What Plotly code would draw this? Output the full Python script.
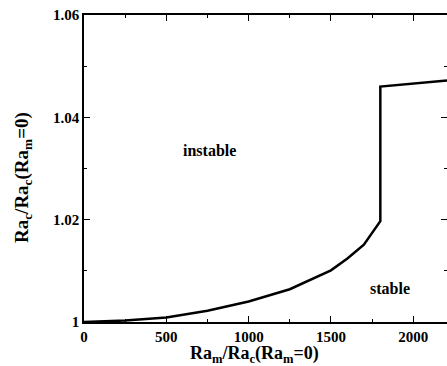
import plotly.graph_objects as go

ram_ratio = [0, 250, 500, 750, 1000, 1250, 1500, 1600, 1700, 1750, 1800, 1800, 2205]
rac_ratio = [1.0, 1.0003, 1.0009, 1.0022, 1.0040, 1.0064, 1.0101, 1.0124, 1.0151, 1.0173, 1.0197, 1.0460, 1.0472]

x_ticks = [0, 500, 1000, 1500, 2000]
y_ticks = [1.0, 1.02, 1.04, 1.06]
y_tick_text = ["1", "1.02", "1.04", "1.06"]

font = "Liberation Serif"

fig = go.Figure()
fig.add_trace(go.Scatter(x=ram_ratio, y=rac_ratio, mode="lines",
                         line=dict(color="black", width=2.5), showlegend=False))

fig.update_layout(
    width=447, height=366,
    margin=dict(l=84, r=0, t=15, b=44, autoexpand=False),
    paper_bgcolor="white", plot_bgcolor="white",
    font=dict(family=font, color="black"),
    xaxis=dict(range=[0, 2205], tickvals=x_ticks, ticks="inside", ticklen=6,
               tickwidth=1, tickcolor="black", showline=True, linecolor="black",
               linewidth=1.5, mirror="ticks", showgrid=False, zeroline=False,
               tickfont=dict(family=font, size=15, color="black", weight="bold"),
               minor=dict(dtick=250, ticks="inside", ticklen=3, tickcolor="black")),
    yaxis=dict(range=[1.0, 1.06], tickvals=y_ticks, ticktext=y_tick_text,
               ticks="inside", ticklen=6, tickwidth=1, tickcolor="black",
               showline=True, linecolor="black", linewidth=1.5, mirror="ticks",
               showgrid=False, zeroline=False,
               tickfont=dict(family=font, size=15, color="black", weight="bold"),
               minor=dict(dtick=0.01, ticks="inside", ticklen=3, tickcolor="black")),
    annotations=[
        dict(text="instable", x=0.347, y=0.56, xref="paper", yref="paper",
             xanchor="center", yanchor="middle",
             showarrow=False, font=dict(family=font, size=16, weight="bold")),
        dict(text="stable", x=0.843, y=0.1075, xref="paper", yref="paper",
             xanchor="center", yanchor="middle",
             showarrow=False, font=dict(family=font, size=16, weight="bold")),
        dict(text="Ra<sub>m</sub>/Ra<sub>c</sub>(Ra<sub>m</sub>=0)", x=0.471, y=-0.106,
             xref="paper", yref="paper", xanchor="center", yanchor="middle",
             showarrow=False, font=dict(family=font, size=18, weight="bold")),
        dict(text="Ra<sub>c</sub>/Ra<sub>c</sub>(Ra<sub>m</sub>=0)", x=-0.168, y=0.469,
             xref="paper", yref="paper", xanchor="center", yanchor="middle",
             textangle=-90, showarrow=False,
             font=dict(family=font, size=19, weight="bold")),
    ],
)

fig.write_html("out.html", config={"displayModeBar": False},
               post_script="document.body.style.margin='0';")
